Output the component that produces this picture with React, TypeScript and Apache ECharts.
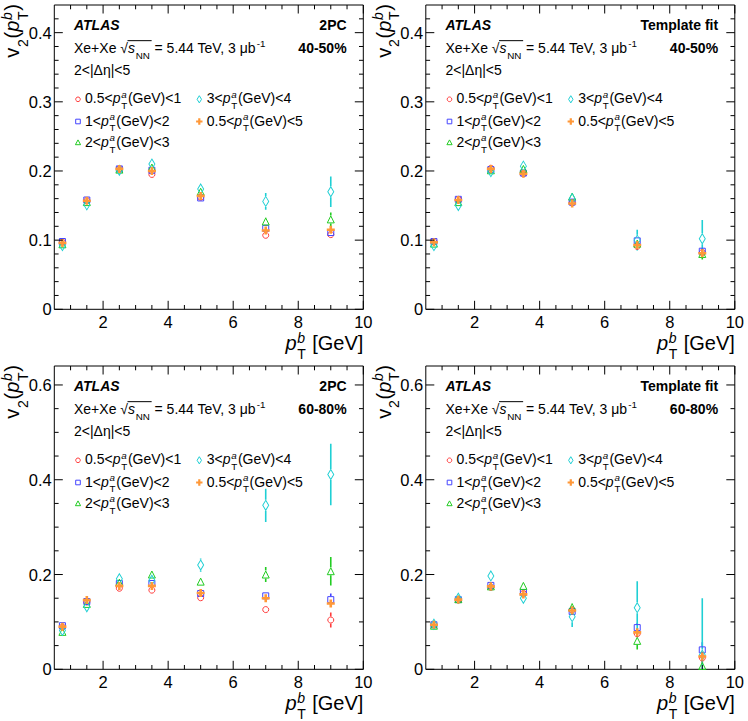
import React, { useEffect, useRef } from "react";
import * as echarts from "echarts";

// ---------------- data ----------------
const ptb = [0.75, 1.5, 2.5, 3.5, 5, 7, 9];

const binLo = ["0.5", "1", "2", "3", "0.5"];
const binHi = ["1", "2", "3", "4", "5"];

const methods = ["2PC", "Template fit", "2PC", "Template fit"];
const centralities = ["40-50%", "40-50%", "60-80%", "60-80%"];

// 2PC, 40-50%
const v2_2pc4050_b1 = [0.097, 0.157, 0.203, 0.195, 0.162, 0.107, 0.108];
const v2_2pc4050_b2 = [0.098, 0.158, 0.203, 0.201, 0.161, 0.117, 0.111];
const v2_2pc4050_b3 = [0.094, 0.155, 0.202, 0.205, 0.170, 0.127, 0.130];
const v2_2pc4050_b4 = [0.092, 0.151, 0.201, 0.210, 0.174, 0.156, 0.170];
const v2_2pc4050_all = [0.096, 0.157, 0.203, 0.200, 0.164, 0.114, 0.115];
const err_2pc4050_b1 = [0.001, 0.001, 0.002, 0.002, 0.002, 0.004, 0.005];
const err_2pc4050_b2 = [0.001, 0.001, 0.002, 0.002, 0.002, 0.004, 0.005];
const err_2pc4050_b3 = [0.002, 0.002, 0.002, 0.003, 0.003, 0.006, 0.010];
const err_2pc4050_b4 = [0.003, 0.003, 0.003, 0.004, 0.005, 0.012, 0.022];
const err_2pc4050_all = [0.001, 0.001, 0.001, 0.002, 0.002, 0.003, 0.004];

// Template fit, 40-50%
const v2_tf4050_b1 = [0.098, 0.159, 0.204, 0.196, 0.154, 0.091, 0.082];
const v2_tf4050_b2 = [0.098, 0.159, 0.202, 0.197, 0.155, 0.099, 0.084];
const v2_tf4050_b3 = [0.095, 0.155, 0.201, 0.203, 0.163, 0.095, 0.080];
const v2_tf4050_b4 = [0.092, 0.150, 0.199, 0.207, 0.160, 0.100, 0.102];
const v2_tf4050_all = [0.097, 0.158, 0.203, 0.196, 0.153, 0.093, 0.081];
const err_tf4050_b1 = [0.001, 0.001, 0.002, 0.002, 0.002, 0.004, 0.005];
const err_tf4050_b2 = [0.001, 0.001, 0.002, 0.002, 0.002, 0.004, 0.005];
const err_tf4050_b3 = [0.002, 0.002, 0.003, 0.003, 0.004, 0.006, 0.008];
const err_tf4050_b4 = [0.003, 0.003, 0.004, 0.005, 0.006, 0.015, 0.027];
const err_tf4050_all = [0.001, 0.001, 0.001, 0.002, 0.002, 0.003, 0.004];

// 2PC, 60-80%
const v2_2pc6080_b1 = [0.089, 0.142, 0.171, 0.167, 0.151, 0.126, 0.104];
const v2_2pc6080_b2 = [0.092, 0.143, 0.181, 0.181, 0.160, 0.155, 0.147];
const v2_2pc6080_b3 = [0.079, 0.138, 0.183, 0.200, 0.185, 0.200, 0.207];
const v2_2pc6080_b4 = [0.082, 0.132, 0.191, 0.188, 0.220, 0.346, 0.411];
const v2_2pc6080_all = [0.090, 0.146, 0.176, 0.176, 0.161, 0.150, 0.139];
const err_2pc6080_b1 = [0.002, 0.002, 0.003, 0.003, 0.004, 0.007, 0.016];
const err_2pc6080_b2 = [0.002, 0.002, 0.003, 0.003, 0.004, 0.007, 0.013];
const err_2pc6080_b3 = [0.003, 0.003, 0.004, 0.005, 0.007, 0.016, 0.030];
const err_2pc6080_b4 = [0.004, 0.004, 0.006, 0.008, 0.014, 0.035, 0.065];
const err_2pc6080_all = [0.001, 0.001, 0.002, 0.002, 0.003, 0.005, 0.009];

// Template fit, 60-80%
const v2_tf6080_b1 = [0.094, 0.147, 0.173, 0.160, 0.125, 0.075, 0.024];
const v2_tf6080_b2 = [0.094, 0.147, 0.177, 0.162, 0.122, 0.088, 0.041];
const v2_tf6080_b3 = [0.092, 0.148, 0.175, 0.176, 0.131, 0.060, 0.007];
const v2_tf6080_b4 = [0.095, 0.150, 0.197, 0.150, 0.111, 0.130, 0.030];
const v2_tf6080_all = [0.094, 0.147, 0.175, 0.158, 0.124, 0.078, 0.027];
const err_tf6080_b1 = [0.002, 0.002, 0.003, 0.004, 0.006, 0.008, 0.013];
const err_tf6080_b2 = [0.002, 0.002, 0.003, 0.004, 0.006, 0.010, 0.016];
const err_tf6080_b3 = [0.003, 0.003, 0.005, 0.006, 0.009, 0.018, 0.030];
const err_tf6080_b4 = [0.004, 0.004, 0.011, 0.008, 0.022, 0.056, 0.120];
const err_tf6080_all = [0.001, 0.001, 0.002, 0.003, 0.004, 0.006, 0.010];

// ticks
const xMajorTicks = [2, 4, 6, 8, 10];
const xTickLabels = ["2", "4", "6", "8", "10"];
const xMinorTicks = [1, 1.5, 2.5, 3, 3.5, 4.5, 5, 5.5, 6.5, 7, 7.5, 8.5, 9, 9.5];
const yTopMajor = [0, 0.1, 0.2, 0.3, 0.4];
const yTopLabels = ["0", "0.1", "0.2", "0.3", "0.4"];
const yTopMinor = [0.02, 0.04, 0.06, 0.08, 0.12, 0.14, 0.16, 0.18, 0.22, 0.24, 0.26, 0.28, 0.32, 0.34, 0.36, 0.38, 0.42];
const yBotMajor = [0, 0.2, 0.4, 0.6];
const yBotLabels = ["0", "0.2", "0.4", "0.6"];
const yBotMinor = [0.05, 0.1, 0.15, 0.25, 0.3, 0.35, 0.45, 0.5, 0.55];

const panelValues = [
  [v2_2pc4050_b1, v2_2pc4050_b2, v2_2pc4050_b3, v2_2pc4050_b4, v2_2pc4050_all],
  [v2_tf4050_b1, v2_tf4050_b2, v2_tf4050_b3, v2_tf4050_b4, v2_tf4050_all],
  [v2_2pc6080_b1, v2_2pc6080_b2, v2_2pc6080_b3, v2_2pc6080_b4, v2_2pc6080_all],
  [v2_tf6080_b1, v2_tf6080_b2, v2_tf6080_b3, v2_tf6080_b4, v2_tf6080_all],
];
const panelErrors = [
  [err_2pc4050_b1, err_2pc4050_b2, err_2pc4050_b3, err_2pc4050_b4, err_2pc4050_all],
  [err_tf4050_b1, err_tf4050_b2, err_tf4050_b3, err_tf4050_b4, err_tf4050_all],
  [err_2pc6080_b1, err_2pc6080_b2, err_2pc6080_b3, err_2pc6080_b4, err_2pc6080_all],
  [err_tf6080_b1, err_tf6080_b2, err_tf6080_b3, err_tf6080_b4, err_tf6080_all],
];

// ---------------- style / layout ----------------
const FONT = '"Liberation Sans", Arial, Helvetica, sans-serif';
const frames = [
  { left: 54.3, top: 5, width: 309, height: 304.3 },
  { left: 425.8, top: 5, width: 309, height: 304.3 },
  { left: 54.3, top: 366, width: 309, height: 303.3 },
  { left: 425.8, top: 366, width: 309, height: 303.3 },
];
const yMaxes = [0.44, 0.44, 0.64, 0.64];

const RED = "#ff3c3c";
const BLUE = "#4444ff";
const GREEN = "#22cc22";
const CYAN = "#1fcfd4";
const ORANGE = "#ff9838";

const markers = [
  { symbol: "circle", size: 6, color: RED, filled: false, half: 3 },
  { symbol: "rect", size: 6, color: BLUE, filled: false, half: 3 },
  { symbol: "triangle", size: 7, color: GREEN, filled: false, half: 3.5 },
  { symbol: "path://M0,0L3,5L0,10L-3,5Z", size: [6, 10], color: CYAN, filled: false, half: 5 },
  { symbol: "path://M2.7,0H5.3V2.7H8V5.3H5.3V8H2.7V5.3H0V2.7H2.7Z", size: 8, color: ORANGE, filled: true, half: 4 },
];

let measureCtx: CanvasRenderingContext2D | null = null;
function measure(t: string, size: number, it?: boolean, b?: boolean) {
  if (!measureCtx) measureCtx = document.createElement("canvas").getContext("2d");
  measureCtx!.font = `${it ? "italic " : ""}${b ? "bold " : ""}${size}px ${FONT}`;
  return measureCtx!.measureText(t).width;
}

type Seg = {
  t?: string;
  it?: boolean;
  b?: boolean;
  sup?: string;
  sub?: string;
  supIt?: boolean;
  over?: "start" | "end";
};

function txt(t: string, x: number, base: number, size: number, it: boolean | undefined, b: boolean | undefined, color: string) {
  return {
    type: "text",
    x,
    y: base - 0.35 * size,
    silent: true,
    style: {
      text: t,
      fill: color,
      fontSize: size,
      fontFamily: FONT,
      fontStyle: it ? "italic" : "normal",
      fontWeight: b ? "bold" : "normal",
      textAlign: "left",
      textVerticalAlign: "middle",
      align: "left",
      verticalAlign: "middle",
    },
  };
}

function buildRun(segs: Seg[], size: number, color = "#000") {
  const els: any[] = [];
  let x = 0;
  let over0 = 0;
  const ss = size * 0.7;
  for (const s of segs) {
    if (s.over === "start") {
      over0 = x;
      continue;
    }
    if (s.over === "end") {
      els.push({
        type: "line",
        silent: true,
        shape: { x1: over0 - 0.5, y1: -size * 0.86, x2: x + 1, y2: -size * 0.86 },
        style: { stroke: color, lineWidth: 1 },
      });
      continue;
    }
    if (s.t != null) {
      els.push(txt(s.t, x, 0, size, s.it, s.b, color));
      x += measure(s.t, size, s.it, s.b);
    } else {
      let w = 0;
      if (s.sup) {
        els.push(txt(s.sup, x + 0.8, -size * 0.38, ss, s.supIt, s.b, color));
        w = Math.max(w, measure(s.sup, ss, s.supIt, s.b));
      }
      if (s.sub) {
        els.push(txt(s.sub, x + 0.8, size * 0.42, ss, false, s.b, color));
        w = Math.max(w, measure(s.sub, ss, false, s.b));
      }
      x += w + 1.5;
    }
  }
  return { els, width: x };
}

function placeRun(segs: Seg[], size: number, x: number, baseline: number, align: "left" | "right", color = "#000") {
  const r = buildRun(segs, size, color);
  return {
    type: "group",
    x: align === "right" ? x - r.width : x,
    y: baseline,
    silent: true,
    children: r.els,
  };
}

function legendMarker(i: number, cx: number, cy: number) {
  const m = markers[i];
  const base = { silent: true };
  if (i === 0)
    return { ...base, type: "circle", shape: { cx, cy, r: 2.3 }, style: { fill: "none", stroke: m.color, lineWidth: 1 } };
  if (i === 1)
    return { ...base, type: "rect", shape: { x: cx - 2.3, y: cy - 2.3, width: 4.6, height: 4.6 }, style: { fill: "none", stroke: m.color, lineWidth: 1 } };
  if (i === 2)
    return {
      ...base,
      type: "polygon",
      shape: { points: [[cx, cy - 2.8], [cx + 2.6, cy + 2], [cx - 2.6, cy + 2]] },
      style: { fill: "none", stroke: m.color, lineWidth: 1 },
    };
  if (i === 3)
    return {
      ...base,
      type: "polygon",
      shape: { points: [[cx, cy - 3.6], [cx + 2.2, cy], [cx, cy + 3.6], [cx - 2.2, cy]] },
      style: { fill: "none", stroke: m.color, lineWidth: 1 },
    };
  const a = 1.1, b = 3.2;
  return {
    ...base,
    type: "polygon",
    shape: {
      points: [
        [cx - a, cy - b], [cx + a, cy - b], [cx + a, cy - a], [cx + b, cy - a], [cx + b, cy + a], [cx + a, cy + a],
        [cx + a, cy + b], [cx - a, cy + b], [cx - a, cy + a], [cx - b, cy + a], [cx - b, cy - a], [cx - a, cy - a],
      ],
    },
    style: { fill: m.color, stroke: "none" },
  };
}

function buildOption() {
  const graphic: any[] = [];
  const series: any[] = [];

  frames.forEach((f, p) => {
    const L = f.left, T = f.top, R = f.left + f.width, B = f.top + f.height;
    // panel texts
    graphic.push(placeRun([{ t: "ATLAS", it: true, b: true }], 14, L + 19.7, T + 25, "left"));
    graphic.push(placeRun([{ t: methods[p], b: true }], 14, R - 16.7, T + 25, "right"));
    graphic.push(
      placeRun(
        [
          { t: "Xe+Xe " },
          { t: "\u221A" },
          { over: "start" },
          { t: "s", it: true },
          { sub: "NN" },
          { over: "end" },
          { t: " = 5.44 TeV, 3 \u03BCb" },
          { sup: "-1" },
        ],
        14,
        L + 19.7,
        T + 47.7,
        "left"
      )
    );
    graphic.push(placeRun([{ t: centralities[p], b: true }], 14, R - 16.7, T + 47.7, "right"));
    graphic.push(placeRun([{ t: "2<|\u0394\u03B7|<5" }], 14, L + 19.7, T + 69.5, "left"));

    // legend
    const rowBase = [98.3, 120.5, 141.7];
    const slots = [
      [0, 0], [0, 1], [0, 2], [1, 0], [1, 1],
    ];
    slots.forEach(([col, row], i) => {
      const mx = L + (col === 0 ? 23.7 : 145);
      const tx = L + (col === 0 ? 30.7 : 152.4);
      const bl = T + rowBase[row];
      graphic.push(legendMarker(i, mx, bl - 4));
      graphic.push(
        placeRun(
          [{ t: binLo[i] + "<" }, { t: "p", it: true }, { sup: "a", sub: "T", supIt: true }, { t: "(GeV)<" + binHi[i] }],
          14,
          tx,
          bl,
          "left"
        )
      );
    });

    // axis titles
    graphic.push(
      placeRun([{ t: "p", it: true }, { sup: "b", sub: "T", supIt: true }, { t: " [GeV]" }], 20, R, B + 40.7, "right")
    );
    const yt = buildRun(
      [{ t: "v" }, { sub: "2" }, { t: "(" }, { t: "p", it: true }, { sup: "b", sub: "T", supIt: true }, { t: ")" }],
      20
    );
    graphic.push({
      type: "group",
      x: L - 35,
      y: T - 1,
      rotation: Math.PI / 2,
      silent: true,
      children: [{ type: "group", x: -yt.width, y: 0, children: yt.els }],
    });

    // ticks & tick labels via custom series
    const top = p < 2;
    const items: { v: number; kind: number; label: string }[] = [];
    xMajorTicks.forEach((v, i) => items.push({ v, kind: 0, label: xTickLabels[i] }));
    xMinorTicks.forEach((v) => items.push({ v, kind: 1, label: "" }));
    (top ? yTopMajor : yBotMajor).forEach((v, i) => items.push({ v, kind: 2, label: (top ? yTopLabels : yBotLabels)[i] }));
    (top ? yTopMinor : yBotMinor).forEach((v) => items.push({ v, kind: 3, label: "" }));

    series.push({
      type: "custom",
      xAxisIndex: p,
      yAxisIndex: p,
      clip: false,
      silent: true,
      z: 10,
      data: items.map((it) => [it.v, it.kind]),
      encode: { x: 0, y: 1 },
      renderItem: (params: any, api: any) => {
        const cs = params.coordSys;
        const item = items[params.dataIndex];
        const ls = { stroke: "#000", lineWidth: 1 };
        const children: any[] = [];
        const labelStyle = (align: string) => ({
          text: item.label,
          fill: "#000",
          fontSize: 16.5,
          fontFamily: FONT,
          textAlign: align,
          align,
          textVerticalAlign: "middle",
          verticalAlign: "middle",
        });
        if (item.kind <= 1) {
          const px = api.coord([item.v, 0])[0];
          const len = item.kind === 0 ? 8.5 : 4.3;
          children.push({ type: "line", shape: { x1: px, y1: cs.y + cs.height, x2: px, y2: cs.y + cs.height - len }, style: ls });
          children.push({ type: "line", shape: { x1: px, y1: cs.y, x2: px, y2: cs.y + len }, style: ls });
          if (item.kind === 0)
            children.push({ type: "text", x: px, y: cs.y + cs.height + 12.8, style: labelStyle("center") });
        } else {
          const py = api.coord([0.5, item.v])[1];
          const len = item.kind === 2 ? 8.5 : 4.3;
          children.push({ type: "line", shape: { x1: cs.x, y1: py, x2: cs.x + len, y2: py }, style: ls });
          children.push({ type: "line", shape: { x1: cs.x + cs.width, y1: py, x2: cs.x + cs.width - len, y2: py }, style: ls });
          if (item.kind === 2) children.push({ type: "text", x: cs.x - 2.5, y: py, style: labelStyle("right") });
        }
        return { type: "group", children };
      },
    });

    // data: error bars + markers
    markers.forEach((m, s) => {
      const vals = panelValues[p][s];
      const errs = panelErrors[p][s];
      series.push({
        type: "custom",
        xAxisIndex: p,
        yAxisIndex: p,
        clip: true,
        silent: true,
        z: 3,
        data: ptb.map((x, i) => [x, vals[i], errs[i]]),
        encode: { x: 0, y: 1 },
        renderItem: (params: any, api: any) => {
          const x = api.value(0), y = api.value(1), e = api.value(2);
          const c = api.coord([x, y]);
          const hi = api.coord([x, y + e]);
          const lo = api.coord([x, y - e]);
          const g = m.half + 0.5;
          const ch: any[] = [];
          const st = { stroke: m.color, lineWidth: 1.6 };
          if (c[1] - g > hi[1]) ch.push({ type: "line", shape: { x1: c[0], y1: hi[1], x2: c[0], y2: c[1] - g }, style: st });
          if (lo[1] > c[1] + g) ch.push({ type: "line", shape: { x1: c[0], y1: c[1] + g, x2: c[0], y2: lo[1] }, style: st });
          return { type: "group", children: ch };
        },
      });
      series.push({
        type: "scatter",
        xAxisIndex: p,
        yAxisIndex: p,
        silent: true,
        z: 3,
        symbol: m.symbol,
        symbolSize: m.size,
        data: ptb.map((x, i) => [x, vals[i]]),
        itemStyle: m.filled
          ? { color: m.color, borderWidth: 0, opacity: 1 }
          : { color: "rgba(0,0,0,0)", borderColor: m.color, borderWidth: 1, opacity: 1 },
      });
    });
  });

  return {
    animation: false,
    backgroundColor: "#fff",
    grid: frames.map((f) => ({
      left: f.left,
      top: f.top,
      width: f.width,
      height: f.height,
      show: true,
      borderColor: "#000",
      borderWidth: 1,
      backgroundColor: "rgba(0,0,0,0)",
      containLabel: false,
      outerBoundsMode: "none",
    })),
    xAxis: frames.map((_, i) => ({ gridIndex: i, type: "value", min: 0.5, max: 10, show: false })),
    yAxis: frames.map((_, i) => ({ gridIndex: i, type: "value", min: 0, max: yMaxes[i], show: false })),
    series,
    graphic,
  };
}

export default function App() {
  const ref = useRef<HTMLDivElement>(null);
  useEffect(() => {
    if (!ref.current) return;
    const chart = echarts.init(ref.current, undefined, { renderer: "svg" });
    chart.setOption(buildOption() as any);
    return () => chart.dispose();
  }, []);
  return <div ref={ref} style={{ position: "absolute", left: 0, top: 0, width: 748, height: 721, background: "#fff" }} />;
}
